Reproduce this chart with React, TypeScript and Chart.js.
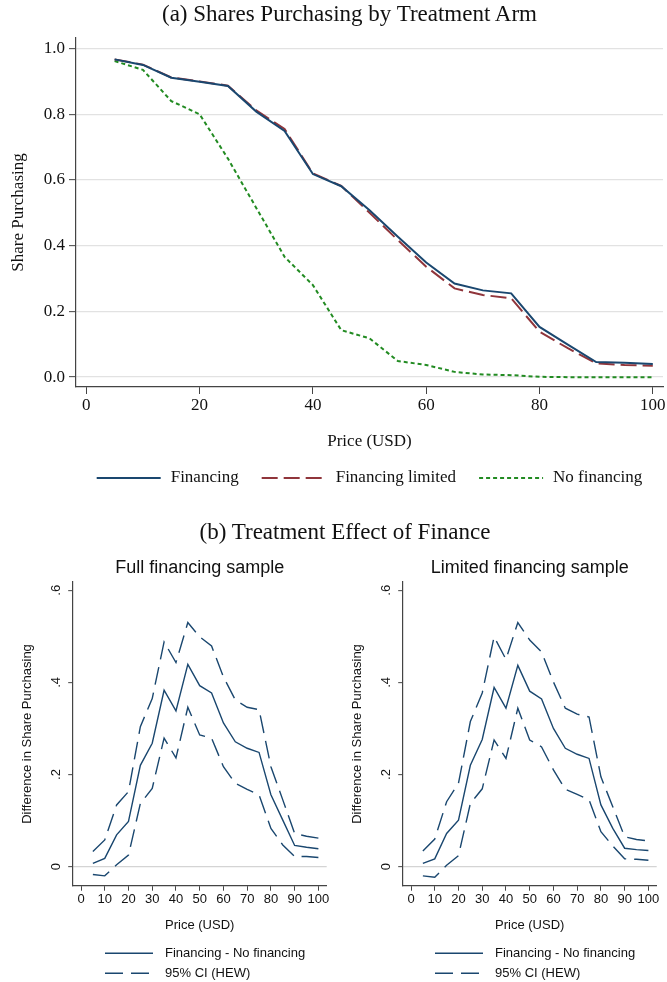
import React, { useEffect, useRef } from "react";
import { Chart, registerables } from "chart.js";

Chart.register(...registerables);

// ---------- data ----------
const prices = [5, 10, 15, 20, 25, 30, 35, 40, 45, 50, 55, 60, 65, 70, 75, 80, 85, 90, 95, 100];

const financing = [0.967, 0.95, 0.911, 0.899, 0.886, 0.808, 0.749, 0.618, 0.581, 0.508, 0.427, 0.349, 0.285, 0.264, 0.255, 0.153, 0.099, 0.046, 0.044, 0.04];
const financingLimited = [0.967, 0.951, 0.912, 0.9, 0.887, 0.812, 0.755, 0.62, 0.582, 0.5, 0.417, 0.336, 0.27, 0.25, 0.24, 0.138, 0.088, 0.042, 0.037, 0.035];
const noFinancing = [0.962, 0.935, 0.84, 0.8, 0.665, 0.515, 0.366, 0.28, 0.143, 0.118, 0.049, 0.037, 0.016, 0.008, 0.006, 0.001, 0, 0, 0, 0];

const topXTicks = [0, 20, 40, 60, 80, 100];
const topYTicks = [0, 0.2, 0.4, 0.6, 0.8, 1.0];

const fullDiff = [0.007, 0.018, 0.069, 0.098, 0.22, 0.268, 0.383, 0.338, 0.439, 0.393, 0.377, 0.312, 0.271, 0.257, 0.248, 0.156, 0.101, 0.046, 0.042, 0.039];
const fullUpper = [0.033, 0.058, 0.134, 0.163, 0.304, 0.365, 0.488, 0.443, 0.53, 0.499, 0.479, 0.412, 0.362, 0.346, 0.341, 0.217, 0.145, 0.072, 0.066, 0.062];
const fullLower = [-0.017, -0.02, 0.004, 0.025, 0.137, 0.17, 0.279, 0.236, 0.346, 0.286, 0.279, 0.217, 0.181, 0.168, 0.156, 0.083, 0.047, 0.022, 0.022, 0.02];

const limDiff = [0.007, 0.017, 0.072, 0.101, 0.22, 0.276, 0.389, 0.344, 0.437, 0.381, 0.364, 0.3, 0.257, 0.244, 0.235, 0.134, 0.083, 0.04, 0.037, 0.035];
const limUpper = [0.034, 0.06, 0.141, 0.181, 0.315, 0.377, 0.499, 0.45, 0.53, 0.492, 0.466, 0.401, 0.344, 0.331, 0.325, 0.195, 0.13, 0.065, 0.059, 0.056];
const limLower = [-0.02, -0.023, 0.003, 0.024, 0.137, 0.169, 0.275, 0.235, 0.344, 0.275, 0.26, 0.21, 0.168, 0.157, 0.145, 0.076, 0.045, 0.017, 0.016, 0.014];

const bottomXTicks = [0, 10, 20, 30, 40, 50, 60, 70, 80, 90, 100];
const bottomYTicks = [0, 0.2, 0.4, 0.6];
const bottomYTickLabels = ["0", ".2", ".4", ".6"];

// ---------- styles ----------
const NAVY = "#1a476f";
const MAROON = "#90353b";
const GREEN = "#228b22";
const AXIS = "#444444";
const GRID = "#e2e2e2";
const TXT = "#111111";
const SERIF = '"Liberation Serif", "Times New Roman", serif';
const SANS = '"Liberation Sans", Arial, sans-serif';

const pts = (ys: number[]) => prices.map((p, i) => ({ x: p, y: ys[i] }));

const lineLegendPlugin = {
  id: "lineLegend",
  afterDraw(chart: any, _args: any, opts: any) {
    if (!opts || !opts.display) return;
    const { ctx, chartArea } = chart;
    const seen = new Set<string>();
    const items: any[] = [];
    chart.data.datasets.forEach((ds: any) => {
      if (!seen.has(ds.label)) {
        seen.add(ds.label);
        items.push(ds);
      }
    });
    ctx.save();
    ctx.font = opts.font;
    ctx.textBaseline = "middle";
    ctx.textAlign = "left";
    const drawItem = (ds: any, x: number, y: number) => {
      ctx.beginPath();
      ctx.strokeStyle = ds.borderColor;
      ctx.lineWidth = ds.borderWidth;
      ctx.setLineDash(ds.borderDash || []);
      ctx.moveTo(x, y);
      ctx.lineTo(x + opts.lineLength, y);
      ctx.stroke();
      ctx.setLineDash([]);
      ctx.fillStyle = opts.color;
      ctx.fillText(ds.label, x + opts.lineLength + opts.textGap, y);
    };
    if (opts.layout === "row") {
      const widths = items.map((it) => opts.lineLength + opts.textGap + ctx.measureText(it.label).width);
      const total = widths.reduce((a: number, b: number) => a + b, 0) + opts.itemGap * (items.length - 1);
      let x = (chartArea.left + chartArea.right) / 2 - total / 2;
      items.forEach((it, i) => {
        drawItem(it, x, opts.y);
        x += widths[i] + opts.itemGap;
      });
    } else {
      const x = chartArea.left + opts.offsetX;
      items.forEach((it, i) => drawItem(it, x, opts.y + i * opts.rowGap));
    }
    ctx.restore();
  },
};

function TopChart() {
  const ref = useRef<HTMLCanvasElement | null>(null);
  useEffect(() => {
    if (!ref.current) return;
    const chart = new Chart(ref.current, {
      type: "line",
      data: {
        datasets: [
          { label: "Financing", data: pts(financing), borderColor: NAVY, borderWidth: 2, pointRadius: 0, tension: 0, fill: false },
          { label: "Financing limited", data: pts(financingLimited), borderColor: MAROON, borderWidth: 2, borderDash: [16, 6], pointRadius: 0, tension: 0, fill: false },
          { label: "No financing", data: pts(noFinancing), borderColor: GREEN, borderWidth: 2, borderDash: [4, 3], pointRadius: 0, tension: 0, fill: false },
        ],
      },
      options: {
        animation: false,
        responsive: false,
        layout: { padding: { top: 38, right: 4, bottom: 47.8, left: 0 } },
        plugins: {
          legend: { display: false },
          tooltip: { enabled: false },
          title: { display: false },
          lineLegend: { display: true, layout: "row", font: `17px ${SERIF}`, color: TXT, y: 478, lineLength: 64, textGap: 10, itemGap: 23 },
        } as any,
        scales: {
          x: {
            type: "linear",
            min: -1.82,
            max: 101.8,
            afterBuildTicks: (s: any) => {
              s.ticks = topXTicks.map((v) => ({ value: v }));
            },
            afterFit: (s: any) => {
              s.height = 65.2;
              s.paddingLeft = 0;
              s.paddingRight = 0;
            },
            ticks: { font: { family: SERIF, size: 17 }, color: TXT, padding: 1, maxRotation: 0, autoSkip: false },
            grid: { drawOnChartArea: false, tickLength: 7, tickColor: AXIS, tickWidth: 1 },
            border: { color: AXIS, width: 1.2 },
            title: { display: true, text: "Price (USD)", font: { family: SERIF, size: 17 }, color: TXT, padding: 0 },
          },
          y: {
            type: "linear",
            min: -0.03,
            max: 1.032,
            afterBuildTicks: (s: any) => {
              s.ticks = topYTicks.map((v) => ({ value: v }));
            },
            afterFit: (s: any) => {
              s.width = 76;
              s.paddingTop = 0;
              s.paddingBottom = 0;
            },
            ticks: { font: { family: SERIF, size: 17 }, color: TXT, padding: 4, callback: (v: any) => Number(v).toFixed(1) },
            grid: { color: GRID, lineWidth: 1.3, tickLength: 7, tickColor: AXIS, tickWidth: 1 },
            border: { color: AXIS, width: 1.2 },
            title: { display: true, text: "Share Purchasing", font: { family: SERIF, size: 17 }, color: TXT, padding: { top: 8, bottom: 0 } },
          },
        },
      },
      plugins: [lineLegendPlugin as any],
    } as any);
    return () => chart.destroy();
  }, []);
  return <canvas ref={ref} width={667} height={500} style={{ position: "absolute", left: 0, top: 0 }} />;
}

function BottomChart(props: { title: string; diff: number[]; upper: number[]; lower: number[]; left: number; width: number }) {
  const ref = useRef<HTMLCanvasElement | null>(null);
  const { title, diff, upper, lower, left, width } = props;
  useEffect(() => {
    if (!ref.current) return;
    const rightPad = width - 326.7;
    const chart = new Chart(ref.current, {
      type: "line",
      data: {
        datasets: [
          { label: "Financing - No financing", data: pts(diff), borderColor: NAVY, borderWidth: 1.4, pointRadius: 0, tension: 0, fill: false },
          { label: "95% CI (HEW)", data: pts(upper), borderColor: NAVY, borderWidth: 1.4, borderDash: [18, 8], pointRadius: 0, tension: 0, fill: false },
          { label: "95% CI (HEW)", data: pts(lower), borderColor: NAVY, borderWidth: 1.4, borderDash: [18, 8], pointRadius: 0, tension: 0, fill: false },
        ],
      },
      options: {
        animation: false,
        responsive: false,
        layout: { padding: { top: 9, right: rightPad, bottom: 48.5, left: 0 } },
        plugins: {
          legend: { display: false },
          tooltip: { enabled: false },
          title: {
            display: true,
            text: title,
            fullSize: false,
            color: TXT,
            font: { family: SANS, size: 18, weight: "normal", lineHeight: 28 / 18 },
            padding: 0,
          },
          lineLegend: { display: true, layout: "column", font: `13px ${SANS}`, color: TXT, y: 408.3, rowGap: 20, offsetX: 32.3, lineLength: 48, textGap: 12 },
        } as any,
        scales: {
          x: {
            type: "linear",
            min: -3.5,
            max: 103.5,
            afterBuildTicks: (s: any) => {
              s.ticks = bottomXTicks.map((v) => ({ value: v }));
            },
            afterFit: (s: any) => {
              s.height = 47.5;
              s.paddingLeft = 0;
              s.paddingRight = 0;
            },
            ticks: { font: { family: SANS, size: 13 }, color: TXT, padding: 1, maxRotation: 0, autoSkip: false },
            grid: { drawOnChartArea: false, tickLength: 4.7, tickColor: AXIS, tickWidth: 1 },
            border: { color: AXIS, width: 1.2 },
            title: { display: true, text: "Price (USD)", font: { family: SANS, size: 13 }, color: TXT, padding: 0 },
          },
          y: {
            type: "linear",
            min: -0.042,
            max: 0.618,
            afterBuildTicks: (s: any) => {
              s.ticks = bottomYTicks.map((v) => ({ value: v }));
            },
            afterFit: (s: any) => {
              s.width = 72.7;
              s.paddingTop = 0;
              s.paddingBottom = 0;
            },
            ticks: {
              font: { family: SANS, size: 13 },
              color: TXT,
              padding: 6,
              minRotation: 90,
              maxRotation: 90,
              crossAlign: "center",
              callback: (v: any) => {
                const i = bottomYTicks.findIndex((t) => Math.abs(t - Number(v)) < 1e-9);
                return i >= 0 ? bottomYTickLabels[i] : "";
              },
            },
            grid: {
              color: (c: any) => (c.tick && Math.abs(c.tick.value) < 1e-9 ? "#d4d4d4" : "rgba(0,0,0,0)"),
              lineWidth: 1.3,
              tickLength: 4.5,
              tickColor: AXIS,
              tickWidth: 1,
            },
            border: { color: AXIS, width: 1.2 },
            title: { display: true, text: "Difference in Share Purchasing", font: { family: SANS, size: 13 }, color: TXT, padding: { top: 20, bottom: 0 } },
          },
        },
      },
      plugins: [lineLegendPlugin as any],
    } as any);
    return () => chart.destroy();
  }, []);
  return <canvas ref={ref} width={width} height={437} style={{ position: "absolute", left, top: 545 }} />;
}

export default function App() {
  const titleStyle: React.CSSProperties = {
    position: "absolute",
    left: 0,
    fontFamily: SERIF,
    fontSize: 23,
    lineHeight: "28px",
    color: TXT,
    textAlign: "center",
    whiteSpace: "nowrap",
  };
  return (
    <div style={{ position: "absolute", left: 0, top: 0, width: 667, height: 982, background: "#ffffff", overflow: "hidden" }}>
      <TopChart />
      <BottomChart title="Full financing sample" diff={fullDiff} upper={fullUpper} lower={fullLower} left={0} width={330} />
      <BottomChart title="Limited financing sample" diff={limDiff} upper={limUpper} lower={limLower} left={330} width={337} />
      <div style={{ ...titleStyle, top: 0, width: 699 }}>(a) Shares Purchasing by Treatment Arm</div>
      <div style={{ ...titleStyle, top: 517.7, width: 690 }}>(b) Treatment Effect of Finance</div>
    </div>
  );
}
